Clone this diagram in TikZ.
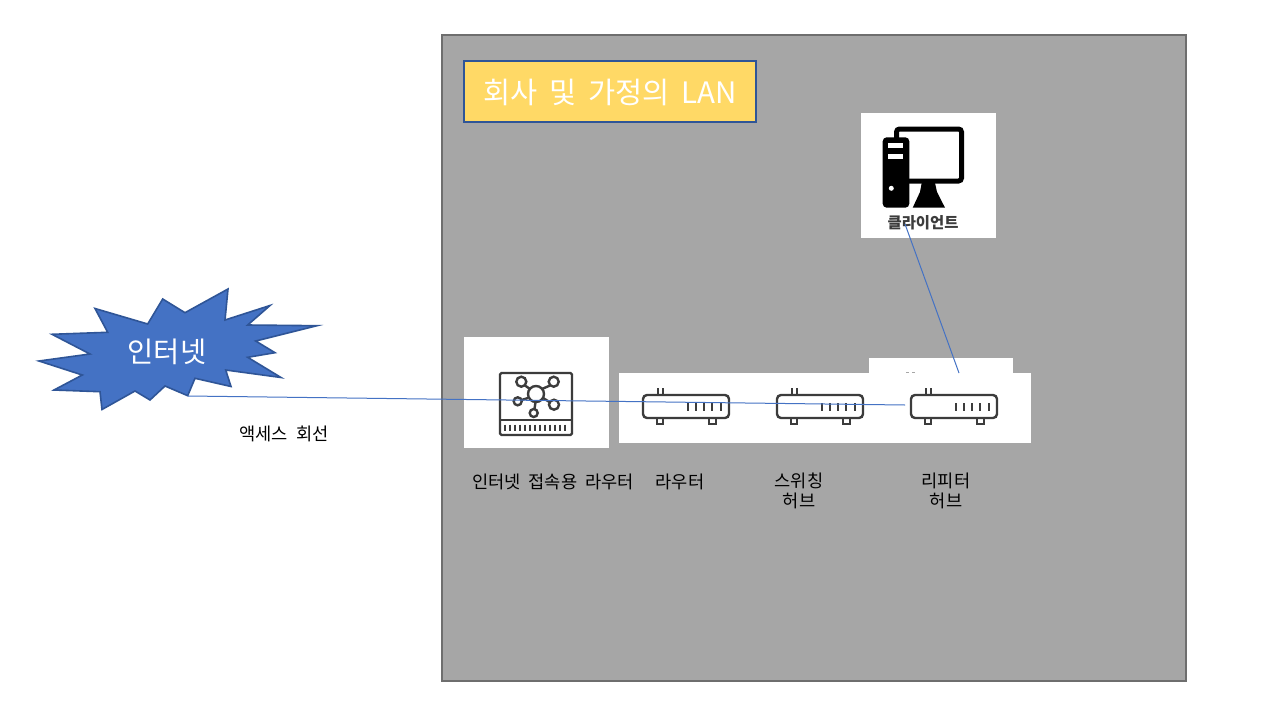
\documentclass[tikz,border=0pt]{standalone}
\usepackage{fontspec}
\setmainfont{Noto Sans CJK KR}
\usetikzlibrary{positioning}
\definecolor{lanfill}{HTML}{A6A6A6}
\definecolor{lanedge}{HTML}{6E6E6E}
\definecolor{tagfill}{HTML}{FFD966}
\definecolor{bluefill}{HTML}{4472C4}
\definecolor{blueedge}{HTML}{2F5597}
\definecolor{icongray}{HTML}{3C3C3C}
\tikzstyle{lbl}=[inner sep=0pt,align=center,font=\fontsize{17.6}{20}\selectfont\spaceskip .45em\relax]
\tikzstyle{whitebox}=[fill=white,draw=none]
\tikzstyle{wire}=[draw=bluefill,line width=1pt]
\tikzstyle{ic}=[draw=icongray,line width=2.4pt]
\newcommand{\hubicon}[1]{
\begin{scope}[shift={(#1,0)}]
\draw[ic,rounded corners=4pt] (643,395) rectangle (729,418);
\draw[ic,line width=2pt] (657.5,395) -- (657.5,388);
\draw[ic,line width=2pt] (662.5,395) -- (662.5,388);
\draw[ic,line width=2pt] (657,418) rectangle (663,424);
\draw[ic,line width=2pt] (709,418) rectangle (715.5,424);
\foreach \xs in {688,696,704,712,721}
  \draw[ic] (\xs,403) -- (\xs,411);
\end{scope}}
\begin{document}
\begin{tikzpicture}[x=1pt,y=-1pt]
\useasboundingbox (0,0) rectangle (1275,726);
\fill[white] (0,0) rectangle (1275,726);
\draw[fill=lanfill,draw=lanedge,line width=1.6pt] (442,35) rectangle (1186,681);
\draw[fill=tagfill,draw=blueedge,line width=1.6pt] (464,61) rectangle (756,122);
\node[inner sep=0pt,font=\fontsize{29.5}{34}\selectfont\spaceskip .4em\relax,white] (lantag) at (610,92) {회사 및 가정의 LAN};
\draw[fill=bluefill,draw=blueedge,line width=1.6pt] (39,361) -- (90,354) -- (52,334.3) -- (107.7,332.3) -- (95,308.5) -- (147.7,324) -- (162.7,299) -- (185,312.7) -- (228,289) -- (225,320) -- (270,305.5) -- (247.7,325) -- (317,325.7) -- (255.7,341) -- (275,352.7) -- (247.7,357.3) -- (281,377.5) -- (225.7,370) -- (231,386.5) -- (195,378.3) -- (187.7,395.7) -- (165,386) -- (150,400) -- (135,391) -- (102,409.5) -- (100,391.7) -- (54,390) -- (82.3,375) -- cycle;
\node[inner sep=0pt,font=\fontsize{28.5}{32}\selectfont,white] (inet) at (167,352) {인터넷};
\coordinate (inetend) at (188,396);
\fill[whitebox] (861,113) rectangle (996,238);
\fill[whitebox] (869,358) rectangle (1013,380);
\fill[whitebox] (619,373) rectangle (1031,443);
\fill[whitebox] (464,337) rectangle (609,448);
\draw[lanfill,line width=.8pt] (906,372.5) -- (909,372.5) (912,372.5) -- (915,372.5);
% router icon
\draw[ic,rounded corners=1.5pt] (500,373) rectangle (572,435);
\draw[ic] (500,420) -- (572,420);
\foreach \xs in {505,510,...,567}
  \draw[ic,line width=1.8pt] (\xs,424.5) -- (\xs,431);
\draw[ic] (536,394) circle (8pt);
\draw[ic] (521.3,381.7) circle (5pt);
\draw[ic] (553.7,381.7) circle (5pt);
\draw[ic] (517.7,401.3) circle (4pt);
\draw[ic] (554,404.7) circle (5pt);
\draw[ic] (533.7,413) circle (4pt);
\draw[ic] (525,385.5) -- (530,389);
\draw[ic] (550,385.5) -- (542,389);
\draw[ic] (521.5,400) -- (528,398);
\draw[ic] (549.5,402) -- (543,398);
\draw[ic] (534.5,409) -- (535.5,402);
\hubicon{0}
\hubicon{134}
\hubicon{268}
% client icon
\draw[black,line width=5pt,rounded corners=3pt] (896.5,129) rectangle (961.5,181);
\fill[black,rounded corners=4pt] (882.7,137.3) rectangle (909.3,207.7);
\fill[white] (888,143.3) rectangle (903,148.3);
\fill[white] (888,154.3) rectangle (903,159);
\fill[white] (891.3,188.3) circle (2.5pt);
\fill[black] (921.7,183) -- (935,183) -- (937,192) -- (945,207.7) -- (912.7,207.7) -- (920,192) -- cycle;
\node[inner sep=0pt,font=\fontsize{15.4}{18}\bfseries\selectfont,icongray] (clientname) at (923,222.5) {클라이언트};
\coordinate (clientend) at (905,224);
\coordinate (hubtop) at (959,373);
\coordinate (hubend) at (905,405);
\draw[wire] (inetend) -- (hubend);
\draw[wire] (clientend) -- (hubtop);
\node[lbl] (line) at (284,434) {액세스 회선};
\node[lbl] (accessname) at (553,482) {인터넷 접속용 라우터};
\node[lbl] (routername) at (680,482) {라우터};
\node[lbl] (switchname) at (799,491) {스위칭\\허브};
\node[lbl] (repeatername) at (946,491) {리피터\\허브};
\end{tikzpicture}
\end{document}
